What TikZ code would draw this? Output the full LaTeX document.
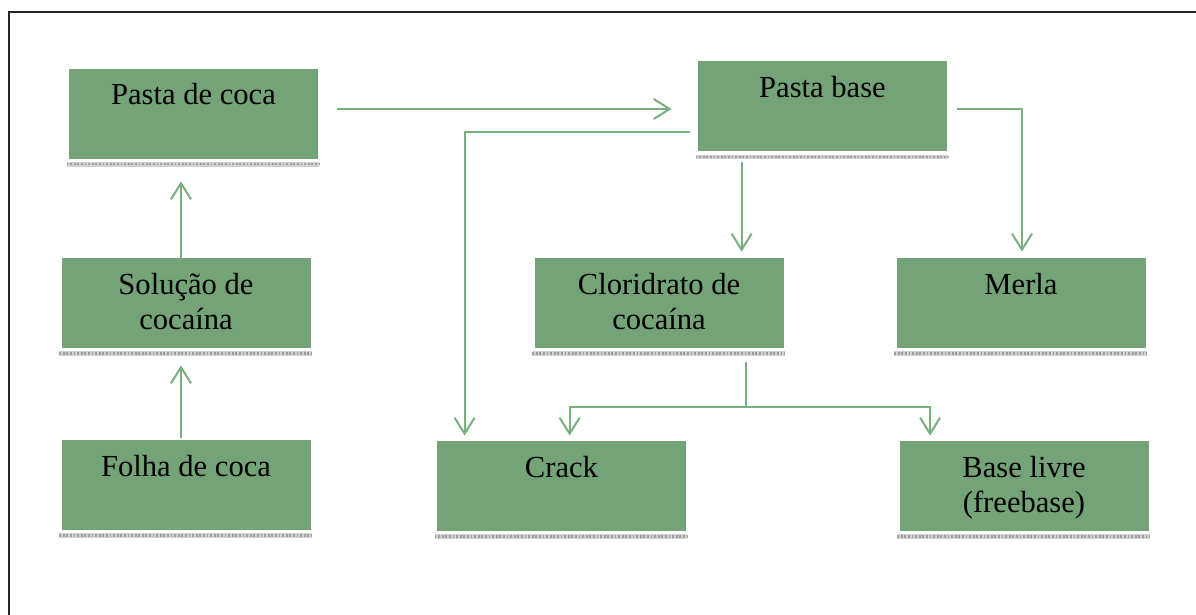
\documentclass[tikz,border=0pt]{standalone}
\usepackage{fontspec}
\setmainfont{Liberation Serif}
\usepackage{xcolor}
\usetikzlibrary{arrows.meta,calc}
\definecolor{boxgreen}{RGB}{115,163,118}
\definecolor{arrowgreen}{RGB}{122,176,127}
\tikzset{
  box/.style={rectangle,fill=boxgreen,inner sep=0pt,text width=124.5pt,align=flush center,
    text height=18pt,text depth=27pt,font=\fontsize{15.3}{17.5}\selectfont},
  shadowline/.style={preaction={draw=gray!35,line width=2.2pt},draw=gray!75,line width=1.1pt,
    dash pattern=on 0.9pt off 0.9pt},
  conn/.style={draw=arrowgreen,line width=1pt,-{Straight Barb[length=8pt,width=10pt]}},
  seg/.style={draw=arrowgreen,line width=1pt}
}
\begin{document}
\begin{tikzpicture}[x=0.5pt,y=-0.5pt]
\useasboundingbox (0,0) rectangle (1196,615);
% frame
\draw[line width=1.4pt,black!85] (9,12) rectangle (1215,640);
% boxes
\node[box] (pcoca) at (193.5,114) {Pasta de coca};
\node[box] (pbase) at (822.5,106.5) {Pasta base};
\node[box] (solucao) at (186,303) {Solução de\\cocaína};
\node[box] (clor) at (659,303) {Cloridrato de\\cocaína};
\node[box] (merla) at (1021,303) {Merla};
\node[box] (folha) at (186,485) {Folha de coca};
\node[box] (crack) at (561.5,486) {Crack};
\node[box] (livre) at (1024,486) {Base livre\\(freebase)};
\foreach \n in {pcoca,pbase,solucao,clor,merla,folha,crack,livre}
  \draw[shadowline] ($(\n.south west)+(-2,5)$) -- ($(\n.south east)+(1,5)$);
% connectors
\draw[conn] ($(folha.north)+(-5,-2)$) -- ($(solucao.south)+(-5,17)$);
\draw[conn] ($(solucao.north)+(-5,0)$) -- ($(pcoca.south)+(-12.5,22)$);
\draw[conn] ($(pcoca.east)+(19,-5)$) -- ($(pbase.west)+(-26,2.5)$);
\draw[conn] ($(pbase.west)+(-8,25.5)$) -| ($(crack.north west)+(28,-5)$);
\draw[conn] ($(pbase.south west)+(44,10)$) coordinate (pb) -- ($(pb |- clor.north)+(0,-6)$);
\draw[conn] ($(pbase.east)+(10,3)$) -| ($(merla.north)+(1,-6)$);
\coordinate (split) at ($(clor.south west)+(212,59)$);
\draw[seg] ($(clor.south west)+(212,14)$) -- (split);
\draw[conn] (split) -| ($(crack.north west)+(133,-5)$);
\draw[conn] (split) -| ($(livre.north west)+(31,-5)$);
\end{tikzpicture}
\end{document}
